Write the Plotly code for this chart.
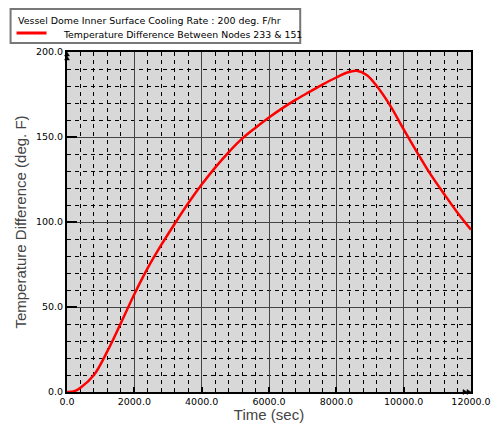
import plotly.graph_objects as go

time_sec = [0, 200, 400, 800, 1200, 1600, 2000, 2400, 2800, 3200, 3600, 4000, 4400, 4800,
            5200, 5600, 6000, 6400, 6800, 7200, 7600, 8000, 8300, 8600, 8900, 9200, 9600,
            10000, 10400, 10800, 11200, 11600, 12000]
temp_diff = [0, 0.3, 2.5, 10, 24, 40.5, 57.5, 73, 86.5, 99, 111, 122, 132, 141,
             149, 155.5, 161.5, 167, 172, 176.5, 181, 185, 187.8, 189, 186.5, 180, 168.5,
             154.5, 141, 128, 116.5, 105.5, 95.5]

legend_title = "Vessel Dome Inner Surface Cooling Rate : 200 deg. F/hr"
series_name = "Temperature Difference Between Nodes 233 & 151"
x_ticks = [0, 2000, 4000, 6000, 8000, 10000, 12000]
y_ticks = [0, 50, 100, 150, 200]

fig = go.Figure()
fig.add_trace(go.Scatter(x=time_sec, y=temp_diff, mode="lines", name=series_name,
                         line=dict(color="#ff0000", width=2.5, shape="spline", smoothing=1.0),
                         showlegend=False))

W, H = 493, 423
L, R, T, B = 66.5, 22, 52, 31
PW, PH = W - L - R, H - T - B


def px_x(p):
    return (p - L) / PW


def px_y(p):
    return 1 - (p - T) / PH


# Legend box drawn manually (paper coords)
fig.add_shape(type="rect", xref="paper", yref="paper",
              x0=px_x(10), x1=px_x(300), y0=px_y(43), y1=px_y(9),
              line=dict(color="#777777", width=2), fillcolor="white", layer="above")
fig.add_shape(type="line", xref="paper", yref="paper",
              x0=px_x(16), x1=px_x(46), y0=px_y(33), y1=px_y(33),
              line=dict(color="#ff0000", width=3), layer="above")
fig.add_annotation(text=legend_title, xref="paper", yref="paper",
                   x=px_x(15), y=px_y(20.5), xanchor="left", yanchor="middle",
                   showarrow=False, font=dict(family="DejaVu Sans", size=9.45, color="black"))
fig.add_annotation(text=series_name, xref="paper", yref="paper",
                   x=px_x(60), y=px_y(34.5), xanchor="left", yanchor="middle",
                   showarrow=False, font=dict(family="DejaVu Sans", size=9.35, color="black"))


def tri(tip_x, tip_y, direction):
    if direction == "up":
        pts = [(tip_x, tip_y), (tip_x - 2.5, tip_y + 4), (tip_x + 2.5, tip_y + 4)]
    else:
        pts = [(tip_x, tip_y), (tip_x - 4, tip_y - 2.5), (tip_x - 4, tip_y + 2.5)]
    path = "M " + " L ".join(f"{px_x(a):.5f},{px_y(b):.5f}" for a, b in pts) + " Z"
    fig.add_shape(type="path", xref="paper", yref="paper", path=path,
                  fillcolor="black", line=dict(color="black", width=0.5), layer="above")


tri(66.5, 52, "up")
tri(66.5, 56, "up")
tri(471, 392, "right")
tri(467, 392, "right")

fig.update_layout(
    width=W, height=H,
    margin=dict(l=L, r=R, t=T, b=B, pad=0, autoexpand=False),
    paper_bgcolor="white", plot_bgcolor="#d8d8d8",
    showlegend=False,
    font=dict(family="DejaVu Sans", size=9.5, color="black"),
)
fig.update_xaxes(
    range=[0, 12000], tickvals=x_ticks, ticktext=[f"{v:.1f}" for v in x_ticks],
    tickangle=0,
    showgrid=True, gridcolor="#444444", gridwidth=1,
    minor=dict(dtick=400, tick0=0, showgrid=True, gridcolor="black", gridwidth=1, griddash="4px,4px"),
    showline=True, linecolor="black", linewidth=2, mirror=True,
    ticks="inside", ticklen=5, tickwidth=2, tickcolor="black",
    tickfont=dict(family="DejaVu Sans", size=9.5, color="black"),
    title=dict(text="Time (sec)", font=dict(family="Liberation Sans", size=15, color="#444444"), standoff=1),
    zeroline=False, automargin=False,
)
fig.update_yaxes(
    range=[0, 200], tickvals=y_ticks, ticktext=[f"{v:.1f}" for v in y_ticks],
    showgrid=True, gridcolor="#444444", gridwidth=1,
    minor=dict(dtick=10, tick0=0, showgrid=True, gridcolor="black", gridwidth=1, griddash="4px,4px"),
    showline=True, linecolor="black", linewidth=2, mirror=True,
    ticks="inside", ticklen=10, tickwidth=2, tickcolor="black",
    tickfont=dict(family="DejaVu Sans", size=9.5, color="black"),
    title=dict(text="Temperature Difference (deg. F)", font=dict(family="Liberation Sans", size=15, color="#444444"), standoff=6),
    zeroline=False, automargin=False,
)
fig.write_html("out.html")
